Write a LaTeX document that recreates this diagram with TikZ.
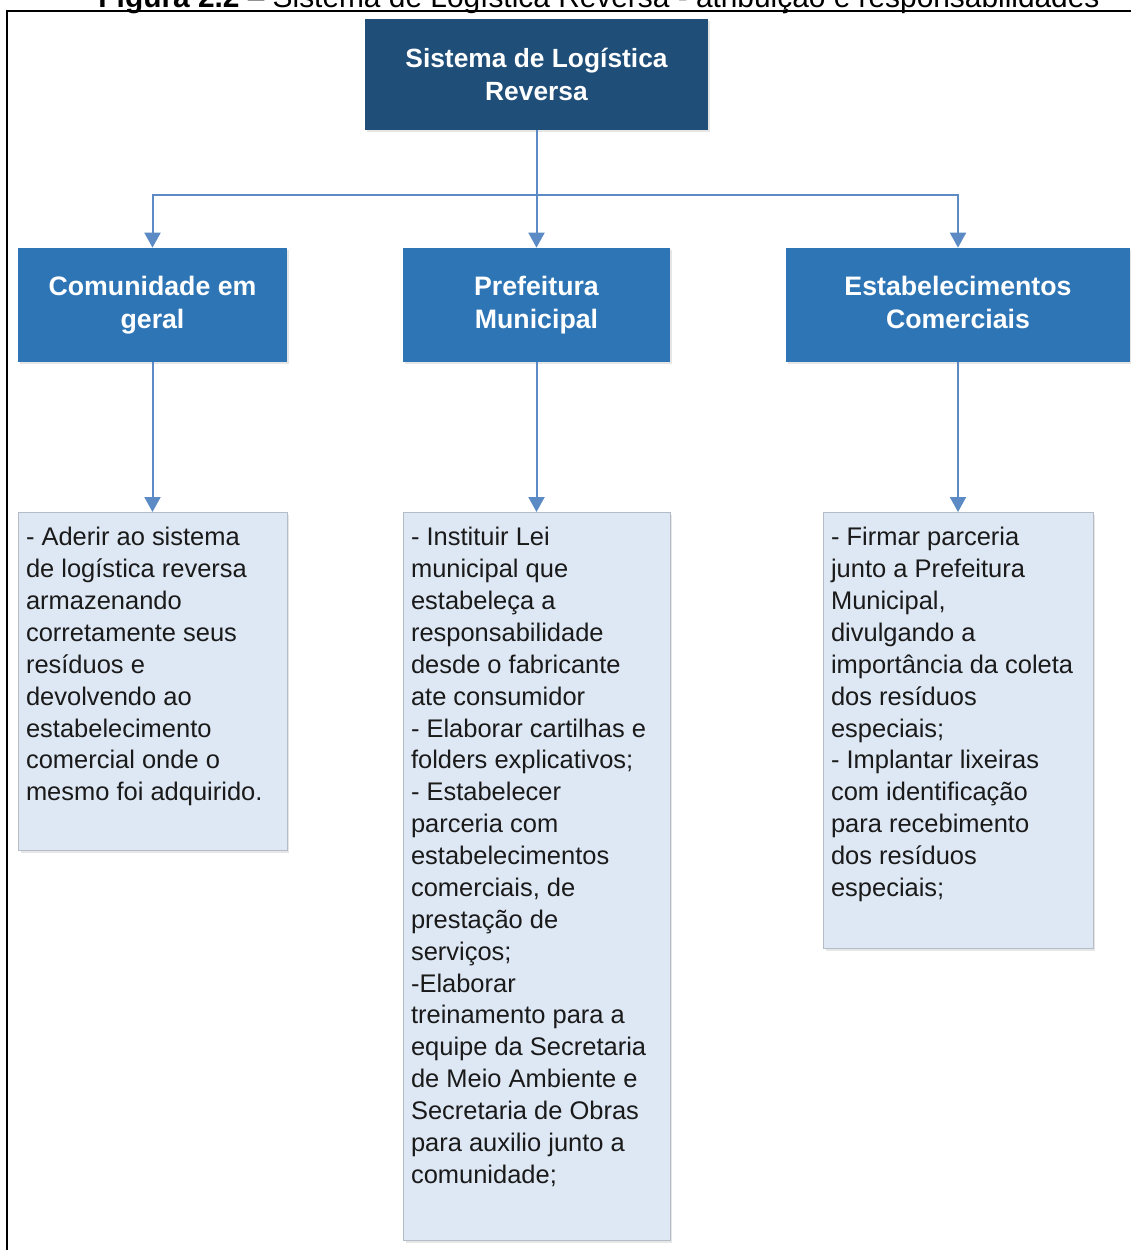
\documentclass[tikz,border=0pt]{standalone}
\usepackage{fontspec}
\setmainfont{Liberation Sans}
\usetikzlibrary{arrows.meta}
\usetikzlibrary{shadows}
\definecolor{navybox}{HTML}{1F4E79}
\definecolor{bluebox}{HTML}{2E75B6}
\definecolor{listfill}{HTML}{DEE8F4}
\definecolor{listline}{HTML}{B4BCC8}
\definecolor{linkblue}{HTML}{5B8AC5}
\definecolor{listink}{HTML}{1A1A1A}

\begin{document}
\begin{tikzpicture}[x=0.02cm,y=-0.02cm,
	topbox/.style = {fill=navybox, text=white, align=center, inner sep=0pt,
		font=\bfseries\fontsize{15}{18.7}\selectfont,
		minimum width=6.86cm, minimum height=2.22cm,
		drop shadow={shadow xshift=0.04cm, shadow yshift=-0.04cm, opacity=0.2}},
	headbox/.style = {fill=bluebox, text=white, align=center, inner sep=0pt,
		font=\bfseries\fontsize{15.2}{18.7}\selectfont, minimum height=2.28cm,
		drop shadow={shadow xshift=0.04cm, shadow yshift=-0.04cm, opacity=0.2}},
	listbox/.style = {draw=listline, fill=listfill, anchor=north, inner sep=0pt,
		drop shadow={shadow xshift=0.05cm, shadow yshift=-0.05cm, opacity=0.2}},
	listtext/.style = {anchor=north west, align=left, inner sep=0pt, text=listink,
		font=\fontsize{14.5}{18.14}\selectfont, xshift=0.16cm, yshift=-0.3cm},
	link/.style = {draw=linkblue, line width=0.04cm,
		-{Triangle[length=0.3cm,width=0.32cm]}}]
	\useasboundingbox (0,0) rectangle (1131,1250);
	\clip (0,0) rectangle (1131,1250);

	% caption and frame
	\node[anchor=base, inner sep=0pt, font=\fontsize{17}{20}\selectfont] (caption) at (599,7.5)
		{\textbf{Figura 2.2} -- Sistema de Logística Reversa - atribuição e responsabilidades};
	\draw[line width=0.035cm] (7,1270) -- (7,11) -- (1150,11);

	% boxes
	\node[topbox] (sis) at (536.5,74.5) {Sistema de Logística\\Reversa};
	\node[headbox, minimum width=5.38cm] (com) at (152.5,305) {Comunidade em\\geral};
	\node[headbox, minimum width=5.34cm] (pref) at (536.5,305) {Prefeitura\\Municipal};
	\node[headbox, minimum width=6.88cm] (est) at (958,305) {Estabelecimentos\\Comerciais\vphantom{p}};

	\node[listbox, minimum width=5.38cm, minimum height=6.76cm] (comlist) at (152.5,512) {};
	\node[listbox, minimum width=5.34cm, minimum height=14.56cm] (preflist) at (536.5,512) {};
	\node[listbox, minimum width=5.40cm, minimum height=8.72cm] (estlist) at (958,512) {};

	\node[listtext] (comtxt) at (comlist.north west) {- Aderir ao sistema\\de logística reversa\\armazenando\\corretamente seus\\resíduos e\\devolvendo ao\\estabelecimento\\comercial onde o\\mesmo foi adquirido.};
	\node[listtext] (preftxt) at (preflist.north west) {- Instituir Lei\\municipal que\\estabeleça a\\responsabilidade\\desde o fabricante\\ate consumidor\\- Elaborar cartilhas e\\folders explicativos;\\- Estabelecer\\parceria com\\estabelecimentos\\comerciais, de\\prestação de\\serviços;\\-Elaborar\\treinamento para a\\equipe da Secretaria\\de Meio Ambiente e\\Secretaria de Obras\\para auxilio junto a\\comunidade;};
	\node[listtext] (esttxt) at (estlist.north west) {- Firmar parceria\\junto a Prefeitura\\Municipal,\\divulgando a\\importância da coleta\\dos resíduos\\especiais;\\- Implantar lixeiras\\com identificação\\para recebimento\\dos resíduos\\especiais;};

	% connectors
	\coordinate (bus) at (536.5,195);
	\draw[link] (sis) -- (pref);
	\draw[link] (bus) -| (com);
	\draw[link] (bus) -| (est);
	\draw[link] (com) -- (comlist);
	\draw[link] (pref) -- (preflist);
	\draw[link] (est) -- (estlist);
\end{tikzpicture}
\end{document}
